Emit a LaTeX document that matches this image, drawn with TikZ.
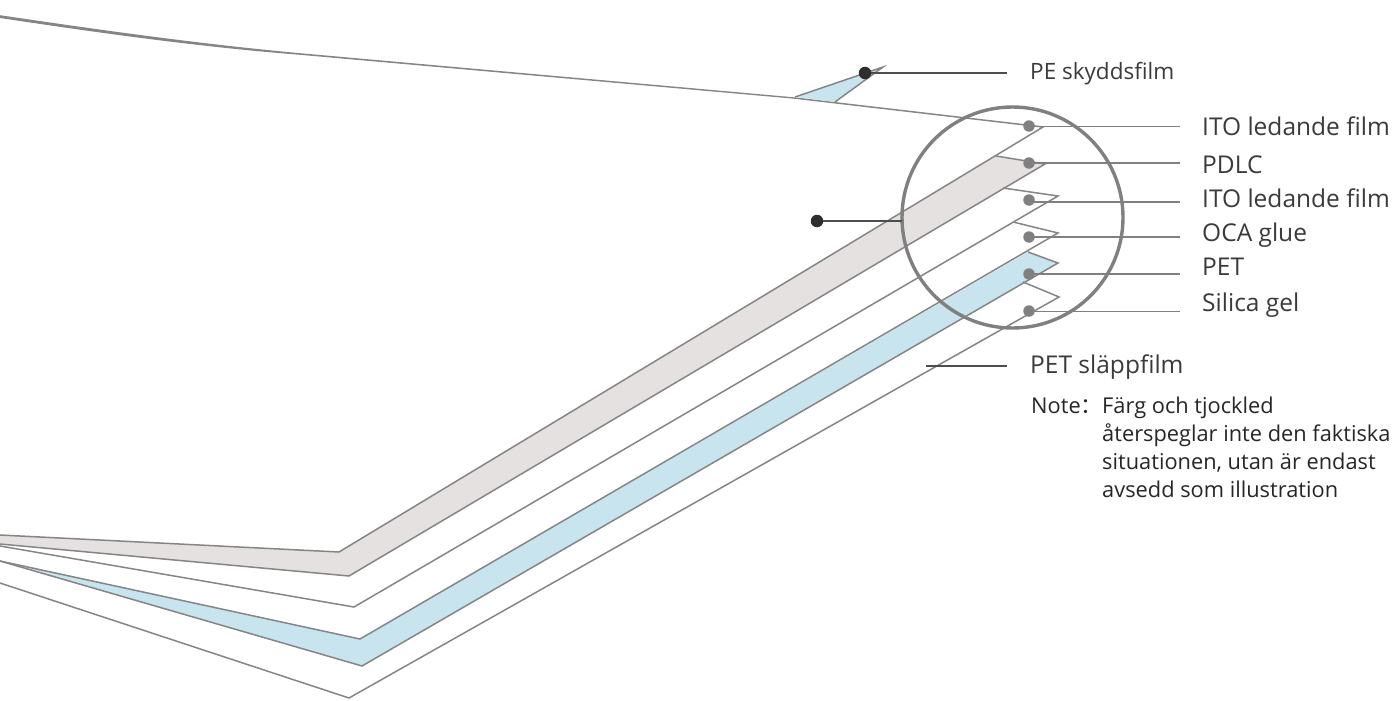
\documentclass[tikz,border=0pt]{standalone}
\usepackage{fontspec}
\setmainfont{Open Sans}
\newfontfamily\cjkfont{Noto Sans CJK SC}
\definecolor{edge}{HTML}{858585}
\definecolor{ring}{HTML}{808080}
\definecolor{dark}{HTML}{2E2E2E}
\definecolor{band}{HTML}{E4E1E0}
\definecolor{sky}{HTML}{C7E4EF}
\definecolor{ink}{HTML}{3A3A3A}
\tikzset{
  sheet/.style={draw=edge,line width=1.5pt,line join=miter},
  dotg/.style={circle,fill=ring,inner sep=0pt,minimum size=11.5pt},
  dotd/.style={circle,fill=dark,inner sep=0pt,minimum size=12.5pt},
  leadg/.style={draw=ring,line width=1.5pt},
  leadd/.style={draw=dark!85!white,line width=1.5pt},
  lab/.style={anchor=base west,inner sep=0pt,text=ink,font=\fontsize{24.5pt}{28pt}\selectfont},
  labsmall/.style={lab,font=\fontsize{22.5pt}{28pt}\selectfont},
  notetxt/.style={anchor=base west,inner sep=0pt,text=black!85,font=\fontsize{21.8pt}{28pt}\selectfont}
}
\begin{document}
\begin{tikzpicture}[x=1pt,y=-1pt]
\useasboundingbox (0,0) rectangle (1394,701);
% sheets
\fill[band] (0,535) -- (339,552) -- (996,156) -- (1045,164) -- (349,576) -- (0,544) -- cycle;
\draw[sheet] (996,156) -- (1045,164) -- (349,576) -- (0,544);
\draw[sheet] (1003,188) -- (1058,196) -- (354,607) -- (0,546);
\fill[sky] (1028,252) -- (1058,263) -- (362,666) -- (0,561) -- (360,639) -- cycle;
\draw[sheet] (1013,222) -- (1058,233) -- (360,639) -- (0,561);
\draw[sheet] (1028,252) -- (1058,263) -- (362,666) -- (0,561);
\draw[sheet] (1023,282) -- (1059,297) -- (349,698) -- (0,583);
% top sheet
\fill[edge] (0,15.2) .. controls (100,30) and (200,44) .. (300,53.2) -- (794,97.3) -- (794,98.7) -- (300,54.8) .. controls (200,47) and (100,33) .. (0,18) -- cycle;
\draw[sheet] (794,98) -- (1043,127) -- (339,552) -- (0,535);
% PE wedge
\fill[sky] (795,97) -- (883,67) -- (835,102) -- cycle;
\draw[sheet] (795,97) -- (883,67) -- (835,102);
% circle
\node[draw=ring,line width=3.4pt,circle,inner sep=0pt,minimum size=221pt] (lens) at (1012.5,217.5) {};
% labels
\node[labsmall] (t0) at (1030,80) {PE skyddsfilm};
\node[lab] (t1) at (1202,135) {ITO ledande film};
\node[lab] (t2) at (1202,173) {PDLC};
\node[lab] (t3) at (1202,207) {ITO ledande film};
\node[lab] (t4) at (1202,241) {OCA glue};
\node[lab] (t5) at (1202,275) {PET};
\node[lab] (t6) at (1202,311) {Silica gel};
\node[lab] (t7) at (1030,373) {PET släppfilm};
\node[notetxt] (n1) at (1031,413) {Note{\cjkfont ：}};
\node[notetxt] (n2) at (1102,413) {Färg och tjockled};
\node[notetxt] (n3) at (1102,441.5) {återspeglar inte den faktiska};
\node[notetxt] (n4) at (1102,469.5) {situationen, utan är endast};
\node[notetxt] (n5) at (1102,497.5) {avsedd som illustration};
% dots
\node[dotd] (d0) at (865,73) {};
\node[dotd] (d8) at (817,221) {};
\node[dotg] (d1) at (1029,126) {};
\node[dotg] (d2) at (1029,163) {};
\node[dotg] (d3) at (1029,200) {};
\node[dotg] (d4) at (1029,237) {};
\node[dotg] (d5) at (1029,274) {};
\node[dotg] (d6) at (1029,311) {};
% line ends
\coordinate (e0) at (1007,73);
\coordinate (e1) at (1180,126.5);
\coordinate (e2) at (1180,163);
\coordinate (e3) at (1180,202);
\coordinate (e4) at (1180,237);
\coordinate (e5) at (1180,274);
\coordinate (e6) at (1180,311.5);
\coordinate (e7) at (1007,366);
\coordinate (s7) at (926,366);
\coordinate (e8) at (902,221);
\draw[leadd] (d0) -- (e0);
\draw[leadd] (d8) -- (e8);
\draw[leadd] (s7) -- (e7);
\draw[leadg] (d1 |- e1) -- (e1);
\draw[leadg] (d2 |- e2) -- (e2);
\draw[leadg] (d3 |- e3) -- (e3);
\draw[leadg] (d4 |- e4) -- (e4);
\draw[leadg] (d5 |- e5) -- (e5);
\draw[leadg] (d6 |- e6) -- (e6);
\end{tikzpicture}
\end{document}
